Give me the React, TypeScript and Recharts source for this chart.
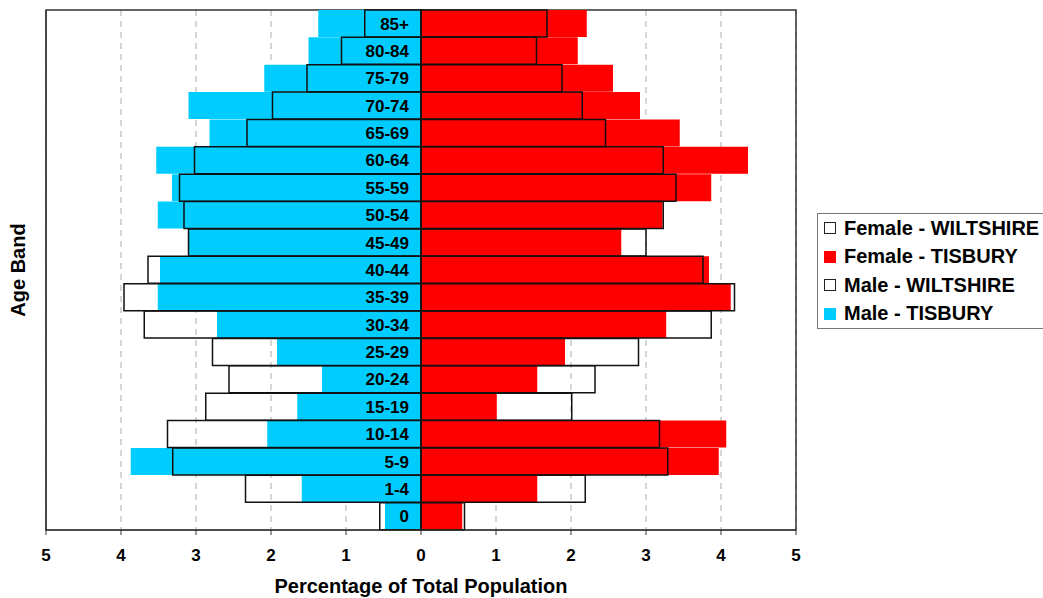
import React from "react";
import {
  BarChart,
  Bar,
  XAxis,
  YAxis,
  CartesianGrid,
  ReferenceArea,
  LabelList,
  Legend,
} from "recharts";

const ageBands = ["85+", "80-84", "75-79", "70-74", "65-69", "60-64", "55-59", "50-54", "45-49", "40-44", "35-39", "30-34", "25-29", "20-24", "15-19", "10-14", "5-9", "1-4", "0"];
const maleTisbury = [1.37, 1.5, 2.09, 3.1, 2.82, 3.53, 3.32, 3.51, 3.1, 3.48, 3.51, 2.72, 1.92, 1.32, 1.65, 2.05, 3.87, 1.59, 0.48];
const maleWiltshire = [0.75, 1.06, 1.52, 1.98, 2.32, 3.02, 3.22, 3.16, 3.1, 3.64, 3.96, 3.69, 2.78, 2.56, 2.87, 3.38, 3.31, 2.34, 0.55];
const femaleTisbury = [2.21, 2.09, 2.56, 2.92, 3.45, 4.36, 3.87, 3.22, 2.67, 3.84, 4.13, 3.27, 1.92, 1.55, 1.01, 4.07, 3.97, 1.55, 0.55];
const femaleWiltshire = [1.68, 1.54, 1.88, 2.15, 2.46, 3.23, 3.4, 3.23, 3.0, 3.76, 4.18, 3.87, 2.9, 2.32, 2.01, 3.18, 3.29, 2.19, 0.58];
const xTicks = [-5, -4, -3, -2, -1, 0, 1, 2, 3, 4, 5];

const legendItems = [
  { name: "Female - WILTSHIRE", color: "#fff", border: true },
  { name: "Female - TISBURY", color: "#FF0000", border: false },
  { name: "Male - WILTSHIRE", color: "#fff", border: true },
  { name: "Male - TISBURY", color: "#00CCFF", border: false },
];

// males go to the left, so negate them
const data = ageBands.map((age, i) => ({
  age,
  maleT: -maleTisbury[i],
  femaleT: femaleTisbury[i],
  maleW: -maleWiltshire[i],
  femaleW: femaleWiltshire[i],
}));

const FONT = "'Liberation Sans', Arial, sans-serif";

const LegendBox = () => (
  <div
    style={{
      border: "1.5px solid #777",
      background: "#fff",
      fontFamily: FONT,
      fontWeight: "bold",
      fontSize: 20,
      color: "#000",
      padding: "0 6px",
      whiteSpace: "nowrap",
    }}
  >
    {legendItems.map((it) => (
      <div key={it.name} style={{ height: 28.5, display: "flex", alignItems: "center" }}>
        <span
          style={{
            display: "inline-block",
            width: 12,
            height: 12,
            boxSizing: "border-box",
            background: it.color,
            border: it.border ? "1.5px solid #222" : "none",
            marginRight: 8,
          }}
        />
        {it.name}
      </div>
    ))}
  </div>
);

const AgeLabel = (props: any) => {
  const { x, y, height, value } = props;
  return (
    <text
      x={x - 12}
      y={y + height / 2}
      dy="0.36em"
      textAnchor="end"
      fontFamily={FONT}
      fontWeight="bold"
      fontSize={17}
      fill="#000"
    >
      {value}
    </text>
  );
};

const AgeBandTitle = (props: any) => {
  const vb = props.viewBox;
  const cx = vb.x + 18;
  const cy = vb.y + vb.height / 2;
  return (
    <text
      x={cx}
      y={cy}
      transform={`rotate(-90, ${cx}, ${cy})`}
      textAnchor="middle"
      dy="0.36em"
      fontFamily={FONT}
      fontWeight="bold"
      fontSize={20}
      fill="#000"
    >
      Age Band
    </text>
  );
};

export default function App() {
  return (
    <div style={{ position: "absolute", top: 0, left: 0, width: 1043, height: 598, overflow: "hidden", background: "#fff" }}>
      <BarChart
        width={1043}
        height={598}
        data={data}
        layout="vertical"
        stackOffset="sign"
        barCategoryGap={0}
        barGap={0}
        margin={{ top: 10, right: 247, bottom: 0, left: 0 }}
      >
        <CartesianGrid
          yAxisId="t"
          horizontal={false}
          vertical={true}
          stroke="#c8c8c8"
          strokeWidth={1.5}
          strokeDasharray="6 5"
        />
        <XAxis
          type="number"
          domain={[-5, 5]}
          ticks={xTicks}
          allowDataOverflow
          tickFormatter={(v: number) => String(Math.abs(v))}
          height={68}
          tickSize={5}
          tickMargin={14}
          stroke="#333"
          tick={{ fill: "#000", fontFamily: FONT, fontWeight: "bold", fontSize: 17 }}
          label={{
            value: "Percentage of Total Population",
            position: "insideBottom",
            offset: 5,
            fill: "#000",
            fontFamily: FONT,
            fontWeight: "bold",
            fontSize: 20,
          }}
        />
        <YAxis
          yAxisId="t"
          type="category"
          dataKey="age"
          width={46}
          tick={false}
          tickLine={false}
          stroke="#333"
          label={{ content: AgeBandTitle }}
        />
        <YAxis yAxisId="w" type="category" dataKey="age" hide />
        <Bar dataKey="maleT" yAxisId="t" stackId="t" fill="#00CCFF" isAnimationActive={false} />
        <Bar dataKey="femaleT" yAxisId="t" stackId="t" fill="#FF0000" isAnimationActive={false} />
        <Bar dataKey="maleW" yAxisId="w" stackId="w" fill="none" stroke="#111" strokeWidth={1.5} isAnimationActive={false} />
        <Bar dataKey="femaleW" yAxisId="w" stackId="w" fill="none" stroke="#111" strokeWidth={1.5} isAnimationActive={false}>
          <LabelList dataKey="age" content={AgeLabel} />
        </Bar>
        <ReferenceArea yAxisId="t" x1={-5} x2={5} fill="none" stroke="#333" strokeWidth={1.5} />
        <Legend
          layout="horizontal"
          verticalAlign="middle"
          align="center"
          wrapperStyle={{ left: 817, top: 213, width: 260 }}
          content={LegendBox}
        />
      </BarChart>
    </div>
  );
}
